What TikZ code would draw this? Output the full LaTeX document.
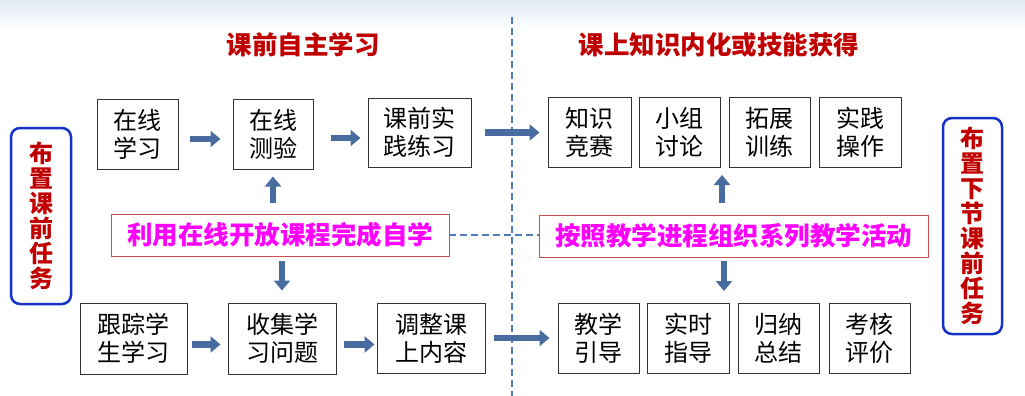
\documentclass[tikz,border=0pt]{standalone}
\usepackage{fontspec}
\setmainfont{Noto Sans CJK SC}
\usepackage{tikz}
\usetikzlibrary{arrows.meta,calc,positioning}
\definecolor{titlered}{RGB}{192, 0, 0}
\definecolor{notepink}{RGB}{255, 0, 255}
\definecolor{noteline}{RGB}{200, 80, 80}
\definecolor{taskblue}{RGB}{20, 50, 200}
\definecolor{arrowblue}{RGB}{72, 108, 160}
\definecolor{dashblue}{RGB}{79, 125, 185}
\definecolor{topshade}{RGB}{226, 236, 246}

\begin{document}
\begin{tikzpicture}[x=1pt, y=-1pt, >=Stealth,
    cell/.style={draw=black!80, line width=1pt, minimum width=81pt, minimum height=70pt,
        inner sep=0pt, align=center, font=\fontsize{24}{28}\selectfont},
    note/.style={draw=noteline, line width=0.9pt, minimum height=42pt, inner sep=0pt,
        text=notepink, font=\fontsize{25.5}{28}\selectfont\bfseries},
    task/.style={draw=taskblue, line width=2.5pt, rounded corners=9pt, inner sep=0pt,
        align=center, text=titlered, font=\fontsize{24}{25}\selectfont\bfseries},
    heading/.style={text=titlered, font=\fontsize{25.5}{28}\selectfont\bfseries},
    blockarrow/.style={draw=arrowblue, line width=6.5pt, -{Triangle[length=10pt, width=16pt]}},
    divider/.style={draw=dashblue, line width=2.3pt, dash pattern=on 7pt off 4pt}]
    \useasboundingbox (0,0) rectangle (1025,396);

    % Light band at the top
    \shade[top color=topshade, bottom color=white] (0,0) rectangle (1025,32);

    % Dividing line between the two stages
    \draw[divider] (512,17) -- (512,396);

    % Stage headings
    \node[heading] (pre) at (303,45) {课前自主学习};
    \node[heading] (inclass) at (719,45) {课上知识内化或技能获得};

    % Side tasks
    \node[task, minimum width=60pt, minimum height=176pt] (lt) at (41,216) {布\\置\\课\\前\\任\\务};
    \node[task, minimum width=59pt, minimum height=216pt] (rt) at (972.5,226) {布\\置\\下\\节\\课\\前\\任\\务};

    % Before class: upper row
    \node[cell] (ol) at (137.5,134) {在线\\学习};
    \node[cell, minimum width=80pt] (ot) at (273,134) {在线\\测验};
    \node[cell, minimum width=103pt, minimum height=69pt] (kp) at (419.5,132.5) {课前实\\践练习};

    % Before class: middle and lower row
    \node[note, minimum width=338pt] (zx) at (280,235) {利用在线开放课程完成自学};
    \node[cell, minimum width=107pt, minimum height=71pt] (gz) at (133.5,338.5) {跟踪学\\生学习};
    \node[cell, minimum width=108pt, minimum height=71pt] (sj) at (282,338.5) {收集学\\习问题};
    \node[cell, minimum width=108pt] (tz) at (431,338) {调整课\\上内容};

    % In class: upper row
    \node[cell, minimum width=83pt] (zs) at (589.5,132) {知识\\竞赛};
    \node[cell] (xz) at (679.5,132) {小组\\讨论};
    \node[cell] (tx) at (769.5,132) {拓展\\训练};
    \node[cell, minimum width=82pt] (sc) at (860,132) {实践\\操作};

    % In class: middle and lower row
    \node[note, minimum width=389pt] (zz) at (733.5,236) {按照教学进程组织系列教学活动};
    \node[cell] (jx) at (598.5,338) {教学\\引导};
    \node[cell, minimum width=82pt] (ss) at (688,338) {实时\\指导};
    \node[cell] (gn) at (778.5,338) {归纳\\总结};
    \node[cell] (kh) at (869.5,338) {考核\\评价};
    \coordinate (up) at (722,175);
    \coordinate (dn) at (724,291);

    % Link between the two notes
    \draw[divider] (zx.east) -- (zx.east -| zz.west);

    % Flow arrows, before class
    \draw[blockarrow, shorten <=11pt, shorten >=12pt] ([yshift=-5pt]ol.east) -- ([yshift=-5pt]ol.east -| ot.west);
    \draw[blockarrow, shorten <=17pt, shorten >=7pt] ([yshift=-4pt]ot.east) -- ([yshift=-4pt]ot.east -| kp.west);
    \draw[blockarrow, shorten <=11pt, shorten >=7pt] (zx.north -| ot.south) -- (ot.south);
    \draw[blockarrow, shorten <=5pt, shorten >=12pt] (zx.south -| sj.north) -- (sj.north);
    \draw[blockarrow, shorten <=4pt, shorten >=7pt] ([yshift=-6pt]gz.east) -- ([yshift=-6pt]gz.east -| sj.west);
    \draw[blockarrow, shorten <=7pt, shorten >=2pt] ([yshift=-6pt]sj.east) -- ([yshift=-6pt]sj.east -| tz.west);

    % Flow arrows, into class
    \draw[blockarrow, shorten <=13pt, shorten >=8pt] (kp.east) -- (kp.east -| zs.west);
    \draw[blockarrow, shorten <=8pt, shorten >=8pt] (tz.east) -- (tz.east -| jx.west);
    \draw[blockarrow, shorten <=12pt] (zz.north -| up) -- (up);
    \draw[blockarrow, shorten <=4pt] (zz.south -| dn) -- (dn);
\end{tikzpicture}
\end{document}
